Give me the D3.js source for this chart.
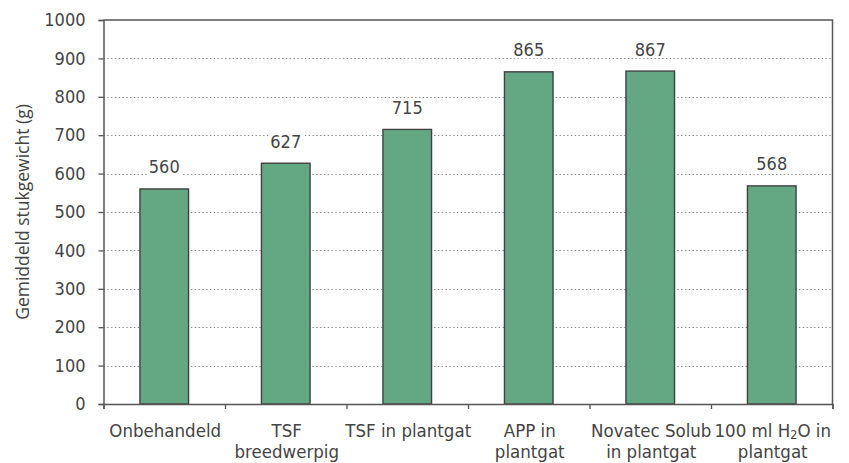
<!DOCTYPE html>
<html>
<head>
<meta charset="utf-8">
<script src="https://cdn.jsdelivr.net/npm/d3@7"></script>
<style>
  html, body { margin: 0; padding: 0; background: #fff; }
  svg { display: block; }
  .lbl { font-family: "DejaVu Sans Condensed", "DejaVu Sans", sans-serif; font-stretch: condensed; fill: #444; }
</style>
</head>
<body>
<svg id="chart" width="849" height="463"></svg>
<script>
// Average unit weight per treatment
const categories = [
  ["Onbehandeld"],
  ["TSF", "breedwerpig"],
  ["TSF in plantgat"],
  ["APP in", "plantgat"],
  ["Novatec Solub", "in plantgat"],
  ["100 ml H\u2082O in", "plantgat"]
];
const values = [560, 627, 715, 865, 867, 568];
const yTicks = [0, 100, 200, 300, 400, 500, 600, 700, 800, 900, 1000];
const yTitle = "Gemiddeld stukgewicht (g)";

const W = 849, H = 463;
const m = { left: 103.5, right: 16.5, top: 20, bottom: 59 };
const x0 = m.left, x1 = W - m.right, y0 = H - m.bottom, y1 = m.top;

const svg = d3.select("#chart");
const idx = d3.range(categories.length);

const x = d3.scaleBand().domain(idx).range([x0, x1]).paddingInner(0.6).paddingOuter(0.3);
const y = d3.scaleLinear().domain([0, 1000]).range([y0, y1]);

const axisColor = "#555";
const textColor = "#444";

// dotted gridlines
svg.append("g").selectAll("line").data(yTicks.filter(d => d > 0 && d < 1000)).join("line")
  .attr("x1", x0).attr("x2", x1)
  .attr("y1", d => Math.round(y(d)) + 0.5).attr("y2", d => Math.round(y(d)) + 0.5)
  .attr("stroke", "#8a8a8a").attr("stroke-width", 1.2)
  .attr("stroke-dasharray", "1.4,2.4");

// bars
svg.append("g").selectAll("rect").data(idx).join("rect")
  .attr("x", i => x(i)).attr("width", x.bandwidth())
  .attr("y", i => y(values[i])).attr("height", i => y(0) - y(values[i]))
  .attr("fill", "#64a883").attr("stroke", "#404040").attr("stroke-width", 1.4);

// frame: top and right edges
svg.append("path")
  .attr("d", `M${x0},${y1}H${x1}V${y0}`)
  .attr("fill", "none").attr("stroke", axisColor).attr("stroke-width", 1.5);

// y axis
const yAxis = d3.axisLeft(y).tickValues(yTicks).tickSize(5).tickPadding(13).tickFormat(d3.format("d"));
const gy = svg.append("g").attr("transform", `translate(${x0},0)`).call(yAxis);
gy.select(".domain").attr("stroke", axisColor).attr("stroke-width", 1.5);
gy.selectAll(".tick line").attr("stroke", axisColor).attr("stroke-width", 1.3);
gy.selectAll(".tick text").attr("class", "lbl").attr("font-size", 18).attr("fill", textColor);

// x axis with ticks at category boundaries
const bounds = d3.scaleLinear().domain([0, categories.length]).range([x0, x1]);
const xAxis = d3.axisBottom(bounds).tickValues(d3.range(categories.length + 1)).tickSize(5).tickFormat("");
const gx = svg.append("g").attr("transform", `translate(0,${y0})`).call(xAxis);
gx.select(".domain").attr("stroke", axisColor).attr("stroke-width", 1.5);
gx.selectAll(".tick line").attr("stroke", axisColor).attr("stroke-width", 1.3);

// category labels
const catG = svg.append("g");
idx.forEach(i => {
  const cx = x(i) + x.bandwidth() / 2 + 1;
  categories[i].forEach((line, k) => {
    const t = catG.append("text").attr("class", "lbl")
      .attr("x", cx).attr("y", y0 + 32.5 + k * 21.5)
      .attr("text-anchor", "middle").attr("font-size", 18.5);
    const sub = line.indexOf("\u2082");
    if (sub >= 0) {
      t.append("tspan").text(line.slice(0, sub));
      t.append("tspan").attr("font-size", 12.5).attr("dy", 2.5).text("2");
      t.append("tspan").attr("dy", -2.5).text(line.slice(sub + 1));
    } else {
      t.text(line);
    }
  });
});

// value labels on a white backing
const valG = svg.append("g");
idx.forEach(i => {
  const cx = x(i) + x.bandwidth() / 2;
  const g = valG.append("g");
  const t = g.append("text").attr("class", "lbl")
    .attr("x", cx).attr("y", y(values[i]) - 15.5)
    .attr("text-anchor", "middle").attr("font-size", 18)
    .text(values[i]);
  const b = t.node().getBBox();
  g.insert("rect", "text")
    .attr("x", b.x - 2).attr("y", b.y + 2).attr("width", b.width + 4).attr("height", b.height - 4)
    .attr("fill", "#fff");
});

// y axis title
svg.append("text")
  .attr("transform", `translate(29,${(y0 + y1) / 2}) rotate(-90)`)
  .attr("text-anchor", "middle")
  .attr("font-family", "'Open Sans', sans-serif").attr("font-size", 17.5)
  .attr("fill", textColor)
  .text(yTitle);
</script>
</body>
</html>
